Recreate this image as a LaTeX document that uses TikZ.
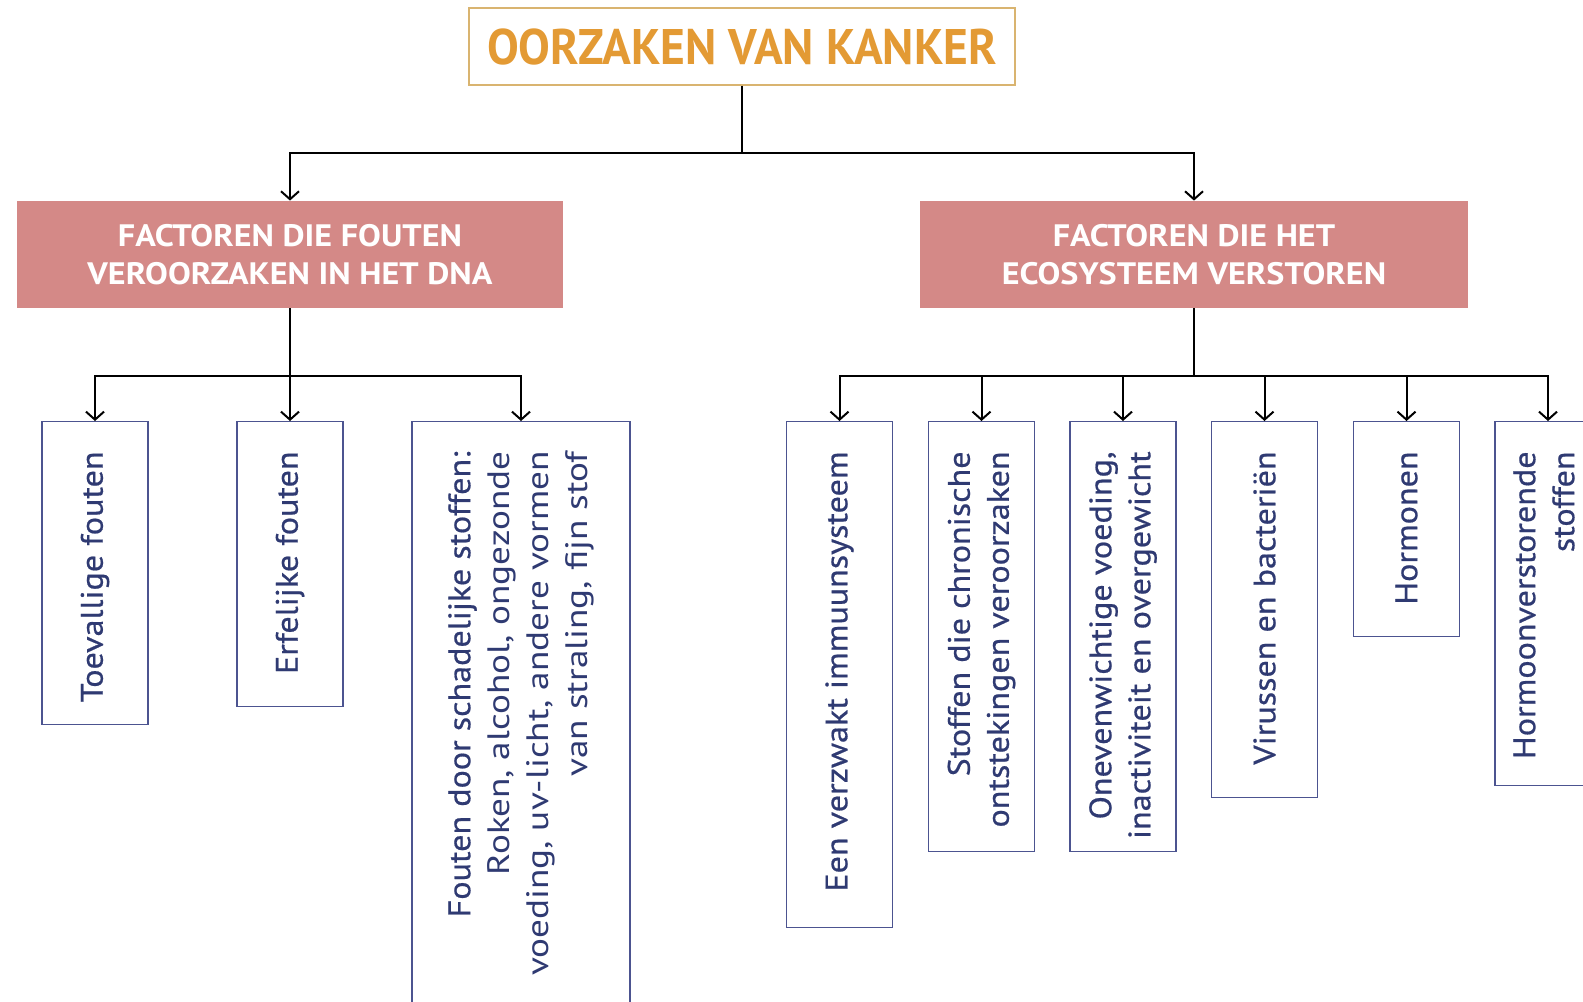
\documentclass[tikz,border=0pt]{standalone}
\usepackage{fontspec}
\setmainfont{PT Sans}
\newfontfamily\titlefont[FakeStretch=0.95]{PT Sans}
\newfontfamily\catfont[FakeStretch=1.1]{PT Sans}
\newfontfamily\leaffont[FakeStretch=1.1, FakeBold=0.6]{PT Sans}
\newfontfamily\leaflight[FakeStretch=1.2]{PT Sans}
\usetikzlibrary{arrows.meta}
\definecolor{titleorange}{HTML}{E39A34}
\definecolor{titleframe}{HTML}{D9B470}
\definecolor{catred}{HTML}{D48987}
\definecolor{leafblue}{HTML}{2F3A72}
\definecolor{leafframe}{HTML}{4C5490}

\begin{document}
\begin{tikzpicture}[x=0.5pt, y=-0.5pt,
  titlebox/.style={draw=titleframe, line width=0.6pt, text=titleorange, font=\titlefont\fontsize{25}{30}\selectfont\bfseries, minimum width=273pt, minimum height=38.5pt, inner sep=0pt},
  catbox/.style={fill=catred, text=white, font=\catfont\fontsize{15.5}{19}\selectfont\bfseries, align=center, minimum width=273pt, minimum height=53.5pt, inner sep=0pt},
  leaf/.style={draw=leafframe, line width=0.6pt, anchor=north, minimum width=53pt, inner sep=0pt},
  leaftext/.style={rotate=90, anchor=east, align=right, text=leafblue, font=\leaffont\fontsize{15.5}{19.5}\selectfont, inner sep=0pt},
  arr/.style={-{Straight Barb[length=4pt, width=9pt]}, line width=1pt}]
  \useasboundingbox (0,0) rectangle (1583,1001);
  \clip (0,0) rectangle (1583,1001);

  \node[titlebox] (title) at (742,46.5) {OORZAKEN VAN KANKER};
  \node[catbox] (dna) at (290,254.5) {FACTOREN DIE FOUTEN\\VEROORZAKEN IN HET DNA};
  \node[catbox, minimum width=274pt] (eco) at (1194,254.5) {FACTOREN DIE HET\\ECOSYSTEEM VERSTOREN};

  \node[leaf, minimum height=151.5pt] (toeval) at (95,421) {};
  \node[leaf, minimum height=142.5pt] (erfelijk) at (290,421) {};
  \node[leaf, minimum height=294.5pt, minimum width=109pt] (schadelijk) at (521,421) {};
  \node[leaf, minimum height=253pt] (immuun) at (839.5,421) {};
  \node[leaf, minimum height=215pt] (ontsteking) at (981.5,421) {};
  \node[leaf, minimum height=215pt] (voeding) at (1123,421) {};
  \node[leaf, minimum height=188pt] (virus) at (1264.5,421) {};
  \node[leaf, minimum height=107.5pt] (hormoon) at (1406.5,421) {};
  \node[leaf, minimum height=181.75pt] (verstoord) at (1548,421) {};

  \node[leaftext] (toevalT) at ([yshift=-15pt]toeval.north) {Toevallige fouten};
  \node[leaftext] (erfelijkT) at ([yshift=-15pt]erfelijk.north) {Erfelijke fouten};
  \node[leaftext] (schadelijkT) at ([yshift=-15pt]schadelijk.north) {Fouten door schadelijke stoffen:\\{\leaflight Roken, alcohol, ongezonde}\\{\leaflight voeding, uv-licht, andere vormen}\\{\leaflight van straling, fijn stof}};
  \node[leaftext] (immuunT) at ([yshift=-15pt]immuun.north) {Een verzwakt immuunsysteem};
  \node[leaftext] (ontstekingT) at ([yshift=-15pt]ontsteking.north) {Stoffen die chronische\\ontstekingen veroorzaken};
  \node[leaftext] (voedingT) at ([yshift=-15pt]voeding.north) {Onevenwichtige voeding,\\inactiviteit en overgewicht};
  \node[leaftext] (virusT) at ([yshift=-15pt]virus.north) {Virussen en bacteriën};
  \node[leaftext] (hormoonT) at ([yshift=-15pt]hormoon.north) {Hormonen};
  \node[leaftext] (verstoordT) at ([xshift=-2pt, yshift=-15pt]verstoord.north) {Hormoonverstorende\\stoffen};

  \coordinate (split1) at (title.south |- 0,152.5);
  \coordinate (split2) at (dna.south |- 0,375.6);
  \coordinate (split3) at (eco.south |- 0,375.6);

  \draw[line width=1pt] (title.south) -- (split1);
  \draw[arr] (split1) -| (dna.north);
  \draw[arr] (split1) -| (eco.north);

  \draw[line width=1pt] (dna.south) -- (split2);
  \draw[arr] (split2) -| (toeval.north);
  \draw[arr] (split2) -- (erfelijk.north);
  \draw[arr] (split2) -| (schadelijk.north);

  \draw[line width=1pt] (eco.south) -- (split3);
  \draw[arr] (split3) -| (immuun.north);
  \draw[arr] (split3) -| (ontsteking.north);
  \draw[arr] (split3) -| (voeding.north);
  \draw[arr] (split3) -| (virus.north);
  \draw[arr] (split3) -| (hormoon.north);
  \draw[arr] (split3) -| (verstoord.north);
\end{tikzpicture}
\end{document}
